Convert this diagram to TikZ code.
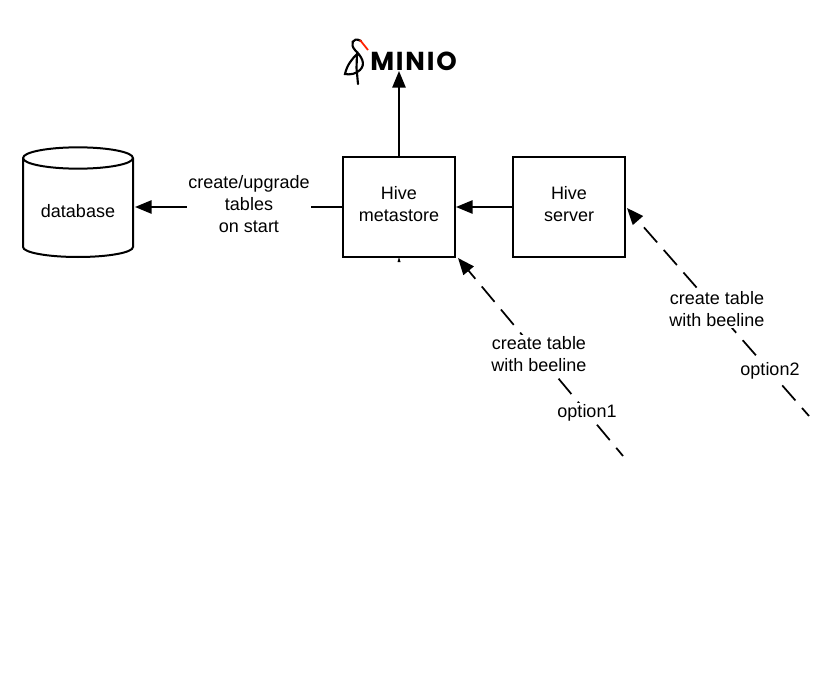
\documentclass[tikz,border=0pt]{standalone}
\usepackage{fontspec}
\setmainfont{Liberation Sans}
\newfontfamily\logofont[LetterSpace=7]{Poppins}
\usetikzlibrary{positioning,arrows.meta}

\tikzset{
    hivebox/.style={draw,line width=1.5pt,minimum width=84pt,minimum height=75pt,align=center,inner sep=0pt,text depth=4.5pt},
    dbline/.style={line width=1.5pt,x radius=41.25pt},
    flowlabel/.style={fill=white,align=center,inner sep=1pt},
    solidarrow/.style={line width=1.3pt,-{Triangle[length=12.5pt,width=10pt]}},
    dashedarrow/.style={solidarrow,dash pattern=on 15pt off 7.5pt,dash phase=7pt},
    every node/.append style={font=\fontsize{13.5}{16.5}\selectfont}
}

\begin{document}
\begin{tikzpicture}[x=.75pt,y=-.75pt]
    \useasboundingbox (0,0) rectangle (828,692);

    \node [hivebox] (metastore) at (399,207) {Hive\\metastore};
    \node [hivebox,right=42pt of metastore] (server) {Hive\\server};
    \node (database) at (78,211) {database};
    \node [inner sep=0pt,anchor=west,font=\logofont\bfseries\fontsize{19.5}{20}\selectfont] (logo) at (370,61) {MINIO};
    \node [flowlabel] (upgrade) at (249,204) {create/upgrade\\tables\\on start};
    \coordinate (startone) at (623,456);
    \coordinate (starttwo) at (809,416);
    \coordinate (logotip) at (399,71);
    \coordinate (ticktip) at (399,258);
    \coordinate (endone) at (458,258);
    \coordinate (endtwo) at (627,208);
    \coordinate (enddb) at (135,207);

    \draw [dbline] (23,158) arc [start angle=180,end angle=540,y radius=8pt]
        -- (23,247) arc [start angle=180,end angle=360,y radius=7.5pt] -- (133,158);

    \draw [solidarrow] (metastore.north) -- (logotip);
    \draw [solidarrow] (server.west) -- (metastore.east);
    \draw [line width=1.3pt] (metastore.west) -- (metastore.west -| upgrade.east);
    \draw [solidarrow] (metastore.west -| upgrade.west) -- (enddb);
    \draw [dashedarrow] (startone) -- (endone);
    \draw [dashedarrow] (starttwo) -- (endtwo);
    \node [flowlabel] (tableone) at (539,354) {create table\\with beeline};
    \node [flowlabel] (tabletwo) at (717,309) {create table\\with beeline};
    \node [flowlabel] (optionone) at (587,413) {option1};
    \node [flowlabel] (optiontwo) at (770,371) {option2};

    \fill (ticktip) ++(-1.5,4) -- ++(1.5,-5) -- ++(1.5,5) -- cycle;

    \draw [line width=1.6pt,line cap=round] (361,41) .. controls (352,36) and (350,45) .. (355,50)
        .. controls (362,57) and (366,64) .. (360,70) .. controls (356,74) and (350,75) .. (345,74)
        .. controls (347,65) and (352,59) .. (357,54) -- (356.5,68) -- (358,84);
    \draw [line width=1.3pt,color=red!75!orange] (360,40) -- (368,50);
\end{tikzpicture}
\end{document}
